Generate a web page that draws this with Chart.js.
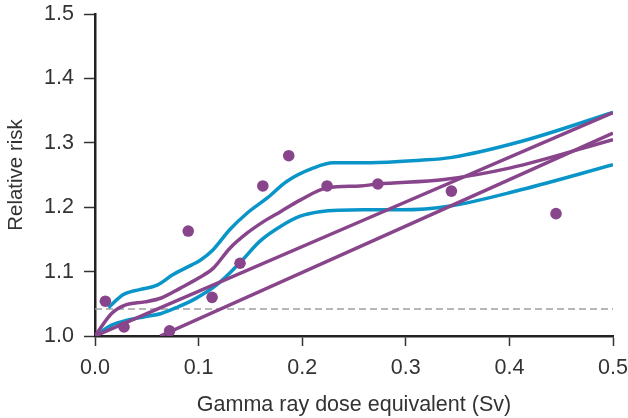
<!DOCTYPE html>
<html>
<head>
<meta charset="utf-8">
<script src="https://cdn.jsdelivr.net/npm/chart.js@4"></script>
<style>
    html, body { margin: 0; padding: 0; background: #fff; }
    #wrap { width: 628px; height: 418px; }
</style>
</head>
<body>
<div id="wrap"><canvas id="riskChart" width="628" height="418"></canvas></div>
<script>
// Observed points
const obsDose = [0.010, 0.028, 0.072, 0.090, 0.113, 0.140, 0.162, 0.187, 0.224, 0.273, 0.344, 0.445];
const obsRisk = [1.054, 1.014, 1.008, 1.163, 1.060, 1.113, 1.233, 1.280, 1.233, 1.236, 1.225, 1.190];

// Smoothed fit (purple) and its confidence band (blue)
const fitDose = [0.000, 0.016, 0.029, 0.048, 0.064, 0.082, 0.100, 0.114, 0.130, 0.147, 0.163, 0.179, 0.198, 0.224, 0.256, 0.273, 0.337, 0.401, 0.500];
const fitRisk = [1.000, 1.035, 1.048, 1.053, 1.059, 1.074, 1.090, 1.105, 1.136, 1.160, 1.178, 1.193, 1.211, 1.230, 1.233, 1.236, 1.243, 1.261, 1.305];

const upperDose = [0.013, 0.027, 0.043, 0.060, 0.075, 0.093, 0.102, 0.114, 0.130, 0.147, 0.166, 0.185, 0.211, 0.230, 0.266, 0.314, 0.343, 0.411, 0.500];
const upperRisk = [1.044, 1.064, 1.072, 1.079, 1.095, 1.110, 1.118, 1.134, 1.165, 1.191, 1.214, 1.240, 1.261, 1.269, 1.269, 1.273, 1.277, 1.302, 1.347];

const lowerDose = [0.000, 0.016, 0.032, 0.048, 0.064, 0.080, 0.097, 0.118, 0.140, 0.159, 0.179, 0.198, 0.217, 0.259, 0.295, 0.343, 0.411, 0.500];
const lowerRisk = [1.000, 1.017, 1.025, 1.030, 1.035, 1.045, 1.058, 1.080, 1.114, 1.147, 1.170, 1.186, 1.193, 1.196, 1.196, 1.202, 1.227, 1.266];

// Linear models
const linearDose = [0.000, 0.500];
const linearRisk = [1.000, 1.347];
const thresholdDose = [0.063, 0.500];
const thresholdRisk = [1.000, 1.315];

// Reference level
const refDose = [0.000, 0.500];
const refRisk = [1.042, 1.042];

// Axes
const xTicks = [0.0, 0.1, 0.2, 0.3, 0.4, 0.5];
const yTicks = [1.0, 1.1, 1.2, 1.3, 1.4, 1.5];

const BLUE = '#0a95c9';
const PURPLE = '#88458b';

function pairs(xs, ys) {
    return xs.map((x, i) => ({ x: x, y: ys[i] }));
}

function curve(xs, ys, color) {
    return {
        type: 'line',
        data: pairs(xs, ys),
        borderColor: color,
        borderWidth: 3.5,
        pointRadius: 0,
        fill: false,
        cubicInterpolationMode: 'monotone',
        borderCapStyle: 'butt'
    };
}

Chart.defaults.font.family = "'Liberation Sans', Arial, sans-serif";
Chart.defaults.color = '#333';

const ctx = document.getElementById('riskChart').getContext('2d');
const riskChart = new Chart(ctx, {
    type: 'scatter',
    data: {
        datasets: [
            {
                type: 'scatter',
                data: pairs(obsDose, obsRisk),
                backgroundColor: PURPLE,
                borderWidth: 0,
                pointRadius: 5.8
            },
            curve(linearDose, linearRisk, PURPLE),
            curve(thresholdDose, thresholdRisk, PURPLE),
            curve(fitDose, fitRisk, PURPLE),
            curve(upperDose, upperRisk, BLUE),
            curve(lowerDose, lowerRisk, BLUE),
            {
                type: 'line',
                data: pairs(refDose, refRisk),
                borderColor: '#a0a0a0',
                borderWidth: 1.5,
                borderDash: [7, 4],
                pointRadius: 0,
                fill: false
            }
        ]
    },
    options: {
        responsive: false,
        animation: false,
        layout: {
            padding: { left: 0, right: 15, top: 14, bottom: 0 }
        },
        plugins: {
            legend: { display: false },
            tooltip: { enabled: false }
        },
        scales: {
            x: {
                type: 'linear',
                min: xTicks[0],
                max: xTicks[xTicks.length - 1],
                afterBuildTicks: function(scale) {
                    scale.ticks = xTicks.map(v => ({ value: v }));
                },
                afterFit: function(scale) {
                    scale.height = 82;
                    scale.paddingLeft = 0;
                    scale.paddingRight = 0;
                },
                grid: {
                    drawOnChartArea: false,
                    drawTicks: true,
                    tickLength: 10,
                    tickWidth: 1.5,
                    tickColor: '#333'
                },
                border: {
                    display: true,
                    color: '#222',
                    width: 2.5
                },
                ticks: {
                    padding: 9,
                    font: { size: 21.5 },
                    color: '#333',
                    callback: v => v.toFixed(1)
                },
                title: {
                    display: true,
                    text: 'Gamma ray dose equivalent (Sv)',
                    font: { size: 21.5 },
                    color: '#333',
                    padding: { top: 0, bottom: 0 }
                }
            },
            y: {
                type: 'linear',
                min: yTicks[0],
                max: yTicks[yTicks.length - 1],
                afterBuildTicks: function(scale) {
                    scale.ticks = yTicks.map(v => ({ value: v }));
                },
                afterFit: function(scale) {
                    scale.width = 95;
                    scale.paddingTop = 0;
                    scale.paddingBottom = 0;
                },
                grid: {
                    drawOnChartArea: false,
                    drawTicks: true,
                    tickLength: 11,
                    tickWidth: 1.5,
                    tickColor: '#333'
                },
                border: {
                    display: true,
                    color: '#222',
                    width: 2.5
                },
                ticks: {
                    padding: 10,
                    font: { size: 21.5 },
                    color: '#333',
                    callback: v => v.toFixed(1)
                },
                title: {
                    display: true,
                    text: 'Relative risk',
                    font: { size: 20.5 },
                    color: '#333',
                    padding: { top: 4, bottom: 0 }
                }
            }
        }
    }
});
</script>
</body>
</html>
